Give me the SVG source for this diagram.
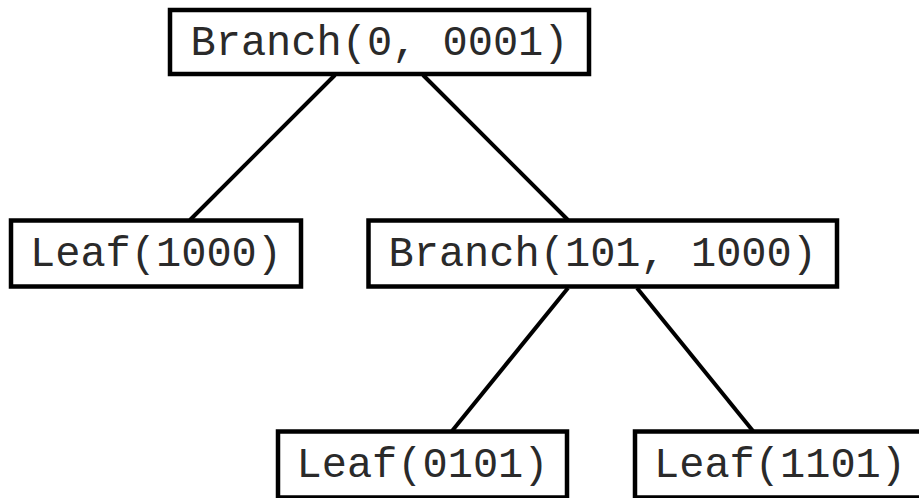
<svg xmlns="http://www.w3.org/2000/svg" width="919" height="498" viewBox="0 0 919 498">
  <style>
    .box { fill: #ffffff; stroke: #000000; stroke-width: 4.5; }
    .lbl { font-family: "Liberation Mono", "Courier New", monospace; font-size: 42px; fill: #2a2a2a; text-anchor: middle; }
    .edge { stroke: #000000; stroke-width: 4; fill: none; }
  </style>
  <rect width="919" height="498" fill="#ffffff"/>
  <g id="connectors">
    <line class="edge" x1="335" y1="75" x2="190" y2="220"/>
    <line class="edge" x1="423" y1="75" x2="568" y2="220"/>
    <line class="edge" x1="568" y1="288" x2="452" y2="431"/>
    <line class="edge" x1="637" y1="288" x2="753" y2="431"/>
  </g>
  <g id="root">
    <rect class="box" x="170" y="10" width="419" height="64"/>
    <text class="lbl" x="379.5" y="55">Branch(0, 0001)</text>
  </g>
  <g id="leaf1000">
    <rect class="box" x="11" y="220.5" width="290" height="66"/>
    <text class="lbl" x="156" y="266">Leaf(1000)</text>
  </g>
  <g id="branch101">
    <rect class="box" x="368.5" y="220.5" width="468.5" height="66"/>
    <text class="lbl" x="602.75" y="266">Branch(101, 1000)</text>
  </g>
  <g id="leaf0101">
    <rect class="box" x="278" y="431.5" width="289" height="66"/>
    <text class="lbl" x="422.5" y="477">Leaf(0101)</text>
  </g>
  <g id="leaf1101">
    <rect class="box" x="635" y="431.5" width="290" height="66"/>
    <text class="lbl" x="780" y="477">Leaf(1101)</text>
  </g>
</svg>
